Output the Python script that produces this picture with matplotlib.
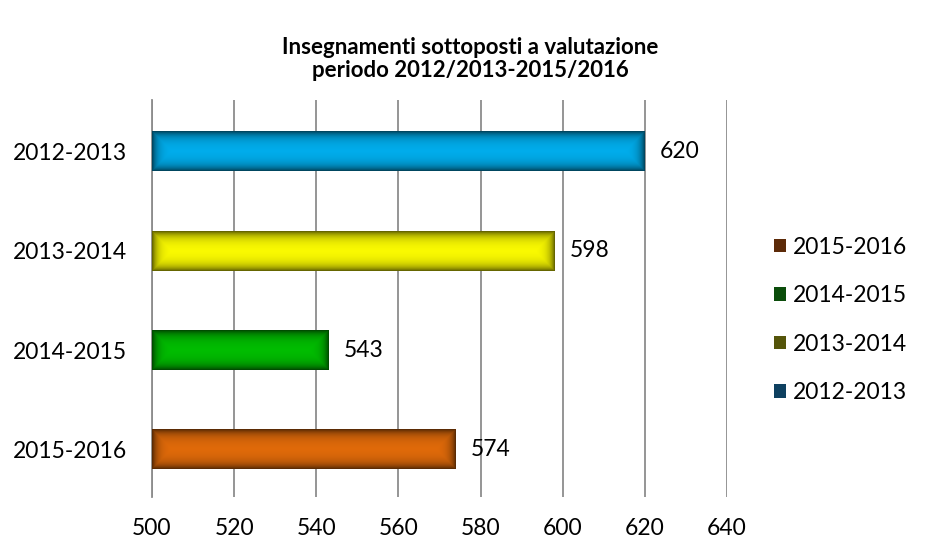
import numpy as np
import matplotlib.pyplot as plt
from matplotlib.patches import Patch
from matplotlib.colors import to_rgb

# Data
categories = ["2012-2013", "2013-2014", "2014-2015", "2015-2016"]
values = [620, 598, 543, 574]
bar_colors = ["#00B0F0", "#FFFF00", "#00C000", "#E46C0A"]
legend_labels = ["2015-2016", "2014-2015", "2013-2014", "2012-2013"]
legend_colors = ["#5C2A08", "#0B4D0B", "#55550A", "#0E4060"]
xticks = [500, 520, 540, 560, 580, 600, 620, 640]

plt.rcParams['font.family'] = ['Lato', 'DejaVu Sans']

fig = plt.figure(figsize=(9.29, 5.45), dpi=100)
ax = fig.add_axes([0.1636, 0.088, 0.619, 0.7285])

ypos = np.arange(len(categories))
bars = ax.barh(ypos + 0.02, [v - 500 for v in values], left=500, height=0.4,
               color=bar_colors, edgecolor="none", zorder=3)
ax.set_xlim(500, 640)
ax.set_ylim(len(categories) - 0.5, -0.5)

# bevel shading on each bar
fig.canvas.draw()
for b, c in zip(bars, bar_colors):
    x0, y0 = b.get_x(), b.get_y()
    w, h = b.get_width(), b.get_height()
    p0 = ax.transData.transform((x0, y0))
    p1 = ax.transData.transform((x0 + w, y0 + h))
    nx = max(int(abs(p1[0] - p0[0])), 2)
    ny = max(int(abs(p1[1] - p0[1])), 2)
    xx = np.minimum(np.arange(nx), np.arange(nx)[::-1])[None, :]
    yy = np.minimum(np.arange(ny), np.arange(ny)[::-1])[:, None]
    d = np.minimum(xx, yy).astype(float)
    shade = 1 - 0.6 * np.exp(-d / 5.5)
    rgb = np.array(to_rgb(c))
    img = np.clip(rgb[None, None, :] * shade[:, :, None], 0, 1)
    ax.imshow(img, extent=(x0, x0 + w, y0 + h, y0), aspect="auto",
              interpolation="bilinear", zorder=4)
    ax.annotate(str(int(x0 + w)), xy=(x0 + w, y0 + h / 2), xytext=(11, 0),
                textcoords="offset points", va="center", ha="left",
                fontsize=16.5, color="#000000")

ax.set_xlim(500, 640)
ax.set_ylim(len(categories) - 0.5, -0.5)
ax.set_yticks(ypos + 0.02)
ax.set_yticklabels(categories, fontsize=16.5)
ax.set_xticks(xticks)
ax.set_xticklabels([str(t) for t in xticks], fontsize=16.5)
ax.tick_params(axis="both", length=0)
ax.tick_params(axis="x", pad=15)
ax.tick_params(axis="y", pad=18)
ax.grid(axis="x", color="#8C8C8C", linewidth=1.3, zorder=0)
ax.set_axisbelow(True)
for s in ["top", "right", "bottom"]:
    ax.spines[s].set_visible(False)
ax.spines["left"].set_color("#8C8C8C")
ax.spines["left"].set_linewidth(1.3)

fig.text(0.506, 0.892, "Insegnamenti sottoposti a valutazione\nperiodo 2012/2013-2015/2016",
         ha="center", va="center", fontsize=16, fontweight="bold", linespacing=1.08)

handles = [Patch(facecolor=c, edgecolor="none") for c in legend_colors]
fig.legend(handles, legend_labels, loc="center left", bbox_to_anchor=(0.833, 0.413),
           frameon=False, fontsize=16.5, handlelength=0.55, handleheight=0.55,
           handletextpad=0.3, labelspacing=1.2, borderpad=0, borderaxespad=0)

fig.savefig("out.png", dpi=100)
